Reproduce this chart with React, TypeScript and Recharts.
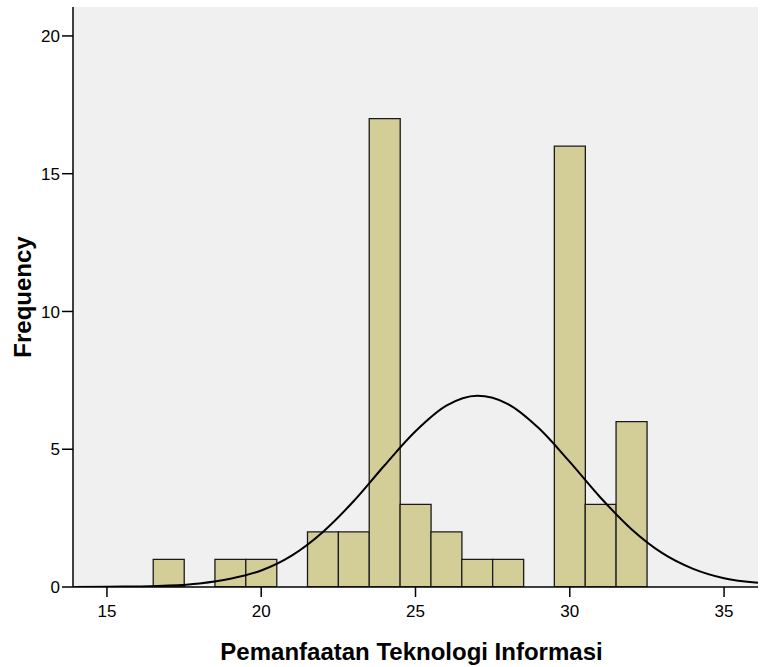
import React from 'react';
import {
  ComposedChart,
  Bar,
  Line,
  XAxis,
  YAxis,
  CartesianGrid,
} from 'recharts';

// histogram bins (bin centre -> frequency)
const binCentres = [17, 19, 20, 22, 23, 24, 25, 26, 27, 28, 30, 31, 32];
const binCounts = [1, 1, 1, 2, 2, 17, 3, 2, 1, 1, 16, 3, 6];

// normal curve
const curveX = [13.9, 15, 16, 17, 18, 19, 20, 21, 22, 23, 24, 25, 26, 27, 28, 29, 30, 31, 32, 33, 34, 35, 36.1];
const curveY = [0, 0.01, 0.02, 0.05, 0.13, 0.3, 0.6, 1.15, 2.0, 3.12, 4.42, 5.65, 6.58, 6.94, 6.64, 5.76, 4.54, 3.24, 2.1, 1.23, 0.66, 0.32, 0.15];

const xTicks = [15, 20, 25, 30, 35];
const yTicks = [0, 5, 10, 15, 20];

const bins = binCentres.map((x, i) => ({ x, count: binCounts[i] }));
const curve = curveX.map((x, i) => ({ x, density: curveY[i] }));

const font = '"Liberation Sans", Arial, sans-serif';
const tickStyle = { fontSize: 17, fill: '#000', fontFamily: font };
const labelStyle = { fontSize: 24, fontWeight: 'bold', fill: '#000', fontFamily: font };

const App: React.FC = () => (
  <div style={{ position: 'absolute', left: 0, top: 0 }}>
    <ComposedChart
      width={762}
      height={667}
      data={bins}
      barCategoryGap={0}
      margin={{ top: 7, right: 4, left: -29, bottom: 0 }}
    >
      <CartesianGrid xAxisId="bins" horizontal={false} vertical={false} fill="#f0f0f0" />
      <XAxis
        xAxisId="bins"
        type="number"
        dataKey="x"
        domain={[13.9, 36.1]}
        ticks={xTicks}
        allowDataOverflow
        height={80}
        tickSize={10}
        tickMargin={8}
        tick={tickStyle}
        stroke="#000"
        strokeWidth={1.5}
        label={{ value: 'Pemanfaatan Teknologi Informasi', position: 'insideBottom', offset: 7, dx: -4, style: labelStyle }}
      />
      <XAxis xAxisId="curve" type="number" dataKey="x" domain={[13.9, 36.1]} allowDataOverflow hide />
      <XAxis xAxisId="top" orientation="top" height={0} tick={false} tickLine={false} stroke="#222" strokeWidth={2} />
      <YAxis
        type="number"
        domain={[0, 21.05]}
        ticks={yTicks}
        allowDataOverflow
        width={102}
        tickSize={11}
        tickMargin={2}
        tick={tickStyle}
        stroke="#000"
        strokeWidth={1.5}
        label={{ value: 'Frequency', angle: -90, position: 'center', style: labelStyle }}
      />
      <YAxis yAxisId="right" orientation="right" width={0} tick={false} tickLine={false} stroke="#333" strokeWidth={2.5} />
      <Bar
        xAxisId="bins"
        dataKey="count"
        fill="#d3ce97"
        stroke="#1a1a1a"
        strokeWidth={1.3}
        isAnimationActive={false}
      />
      <Line
        xAxisId="curve"
        data={curve}
        dataKey="density"
        type="monotone"
        stroke="#000"
        strokeWidth={2}
        dot={false}
        activeDot={false}
        isAnimationActive={false}
      />
    </ComposedChart>
  </div>
);

export default App;
